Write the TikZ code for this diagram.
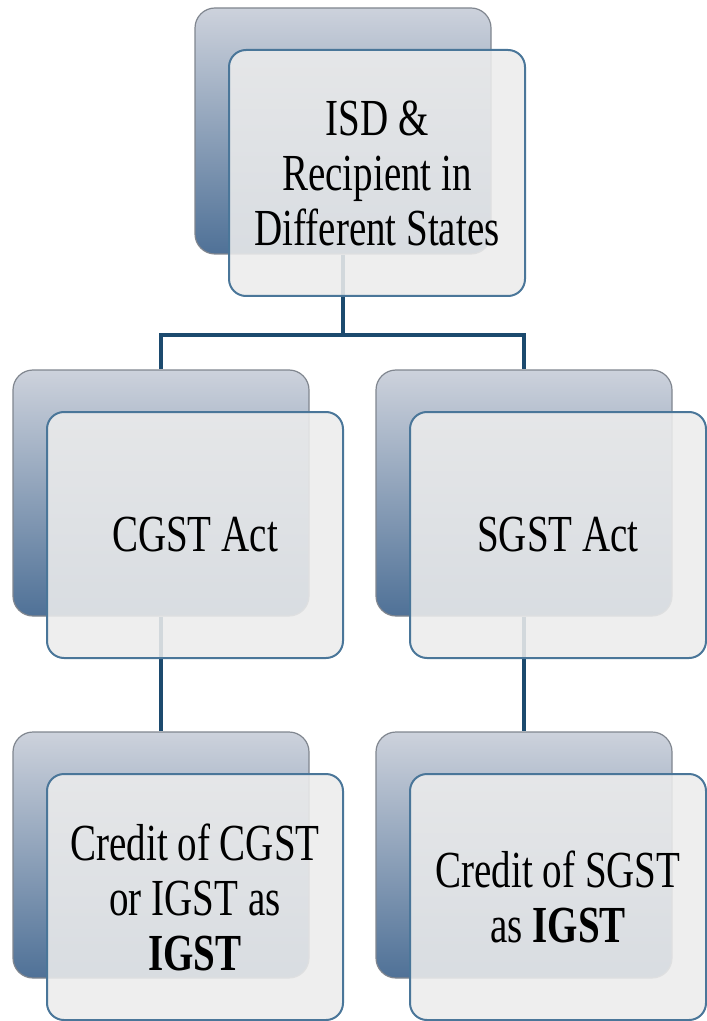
\documentclass[tikz,border=0pt]{standalone}
\usepackage{fontspec}
\setmainfont{Liberation Serif}[FakeStretch=0.75]
\usetikzlibrary{backgrounds}
\definecolor{backtop}{HTML}{CDD2DC}
\definecolor{backbot}{HTML}{4F7197}
\definecolor{backline}{HTML}{80868F}
\definecolor{frontfill}{HTML}{ECECEC}
\definecolor{frontline}{HTML}{4A7699}
\definecolor{linkblue}{HTML}{1C4A6E}

\begin{document}
\begin{tikzpicture}[x=0.5pt,y=-0.5pt]
\tikzset{
  back/.style={draw=backline, line width=0.6pt, rounded corners=10pt, top color=backtop, bottom color=backbot, minimum width=148pt, minimum height=123pt, inner sep=0pt},
  front/.style={draw=frontline, line width=1pt, rounded corners=8.5pt, fill=frontfill, fill opacity=0.88, text opacity=1, minimum width=148pt, minimum height=123pt, inner sep=0pt, align=center, xshift=17pt, yshift=-21pt, font=\fontsize{26}{27.5}\selectfont},
  link/.style={draw=linkblue, line width=2pt}
}

\useasboundingbox (0,0) rectangle (706,1021);

\coordinate (A) at (343,131);
\coordinate (B) at (161,493);
\coordinate (C) at (524,493);
\coordinate (D) at (161,855);
\coordinate (E) at (524,855);
\coordinate (split) at (343,335);

\node[back] (isdB) at (A) {};
\node[front] (isd) at (A) {ISD \&\\Recipient in\\Different States};

\node[back] (cgstB) at (B) {};
\node[front] (cgst) at (B) {CGST Act};

\node[back] (sgstB) at (C) {};
\node[front] (sgst) at (C) {SGST Act};

\node[back] (cgstcrB) at (D) {};
\node[front] (cgstcr) at (D) {Credit of CGST\\or IGST as\\\textbf{IGST}};

\node[back] (sgstcrB) at (E) {};
\node[front] (sgstcr) at (E) {Credit of SGST\\as \textbf{IGST}};

\begin{scope}[on background layer]
\draw[link] (isdB.south) -- (split);
\draw[link] (cgstB.north) |- (split) -| (sgstB.north);
\draw[link] (cgstB.south) -- (cgstcrB.north);
\draw[link] (sgstB.south) -- (sgstcrB.north);
\end{scope}
\end{tikzpicture}
\end{document}
